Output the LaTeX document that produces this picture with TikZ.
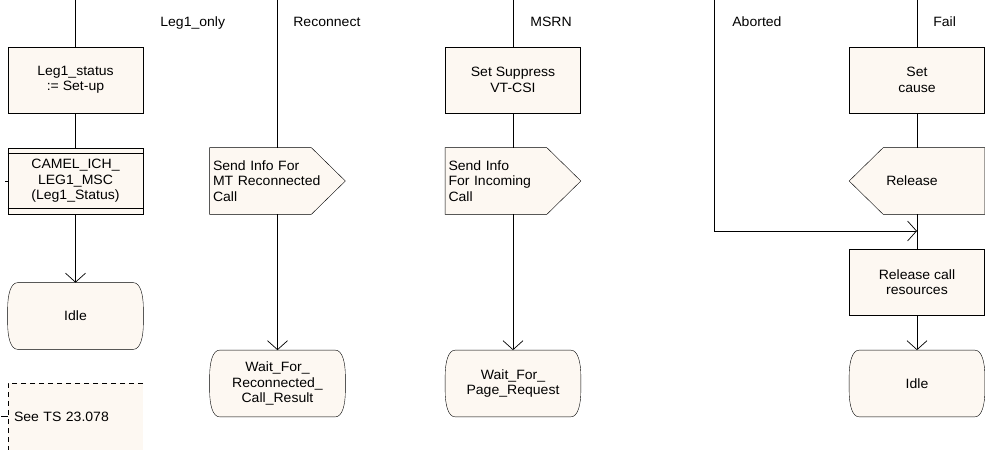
\documentclass[tikz,border=0pt]{standalone}
\usepackage{fontspec}
\setmainfont{Liberation Sans}[FakeStretch=1.04]
\usetikzlibrary{arrows.meta,backgrounds}
\definecolor{sdlfill}{RGB}{253,248,242}
\newcommand\us{\textunderscore}
% SDL state symbol: straight top and bottom, bulging sides
\newcommand\sdlstate[1]{%
  \draw[sdlshape] ([xshift=10pt]#1.north west) -- ([xshift=-10pt]#1.north east)
    .. controls ([xshift=-3pt]#1.north east) and ([yshift=-12pt]#1.north east) .. ([yshift=-26pt]#1.north east)
    -- ([yshift=26pt]#1.south east)
    .. controls ([yshift=12pt]#1.south east) and ([xshift=-3pt]#1.south east) .. ([xshift=-10pt]#1.south east)
    -- ([xshift=10pt]#1.south west)
    .. controls ([xshift=3pt]#1.south west) and ([yshift=12pt]#1.south west) .. ([yshift=26pt]#1.south west)
    -- ([yshift=-26pt]#1.north west)
    .. controls ([yshift=-12pt]#1.north west) and ([xshift=3pt]#1.north west) .. cycle;}
\begin{document}
\begin{tikzpicture}[x=1pt,y=-1pt, line width=0.7pt,
  every node/.style={font=\fontsize{13.5}{15.5}\selectfont},
  sdlbox/.style={draw, fill=sdlfill, rectangle, minimum width=135pt, minimum height=66pt, align=center, inner sep=0pt},
  sdltext/.style={rectangle, minimum width=135pt, minimum height=66pt, inner sep=0pt, align=center},
  lefttext/.style={sdltext, inner xsep=3pt, text width=129pt, align=left},
  sdlshape/.style={draw, fill=sdlfill},
  flow/.style={-{Straight Barb[length=9pt,width=20pt]}},
  lbl/.style={anchor=base west, inner sep=0pt}
]
\useasboundingbox (0,0) rectangle (985,450);

% column 1
\node[sdlbox] (leg1) at (75.5,80) {Leg1\us status\\:= Set-up};
\node[sdlbox] (camel) at (75.5,181) {CAMEL\us ICH\us\\LEG1\us MSC\\(Leg1\us Status)};
\draw ([yshift=-6pt]camel.north west) -- ([yshift=-6pt]camel.north east);
\draw ([yshift=6pt]camel.south west) -- ([yshift=6pt]camel.south east);
\node[sdltext] (idleA) at (75.5,316) {Idle};
\fill[sdlfill] (8,383) rectangle (143,450);
\node[sdltext, minimum height=67pt, inner xsep=6pt, text width=123pt, align=left] (note) at (75.5,416.5) {See TS 23.078};
\draw[dash pattern=on 5pt off 4pt] (143,383) -- (8,383) -- (8,450);
\draw (note.west) -- ++(-7,0);
\draw (camel.west) -- ++(-3,0);

% column 2
\node[lefttext] (sendA) at (277.5,181) {Send Info For\\MT Reconnected\\Call};
\node[sdltext] (waitA) at (277.5,383.5) {Wait\us For\us\\Reconnected\us\\Call\us Result};

% column 3
\node[sdlbox] (supp) at (513,80) {Set Suppress\\VT-CSI};
\node[lefttext] (sendB) at (513,181) {Send Info\\For Incoming\\Call};
\node[sdltext] (waitB) at (513,383.5) {Wait\us For\us\\Page\us Request};

% column 4
\node[sdlbox] (cause) at (917,80) {Set\\cause};
\node[sdltext, text width=129pt] (rel) at (917,181) {\hspace*{-10pt}Release};
\node[sdlbox] (relres) at (917,282) {Release call\\resources};
\node[sdltext] (idleB) at (917,383.5) {Idle};

% outlines of the signal and state symbols
\begin{scope}[on background layer]
  \draw[sdlshape] (sendA.north west) -- ([xshift=-34pt]sendA.north east) -- (sendA.east)
    -- ([xshift=-34pt]sendA.south east) -- (sendA.south west) -- cycle;
  \draw[sdlshape] (sendB.north west) -- ([xshift=-34pt]sendB.north east) -- (sendB.east)
    -- ([xshift=-34pt]sendB.south east) -- (sendB.south west) -- cycle;
  \draw[sdlshape] (rel.west) -- ([xshift=34pt]rel.north west) -- (rel.north east)
    -- (rel.south east) -- ([xshift=34pt]rel.south west) -- cycle;
  \sdlstate{idleA}
  \sdlstate{waitA}
  \sdlstate{waitB}
  \sdlstate{idleB}
\end{scope}

% branch labels
\node[lbl] (lblA) at (160,26.5) {Leg1\us only};
\node[lbl] (lblB) at (293,26.5) {Reconnect};
\node[lbl] (lblC) at (530,26.5) {MSRN};
\node[lbl] (lblD) at (732,26.5) {Aborted};
\node[lbl] (lblE) at (933,26.5) {Fail};

% flow lines
\coordinate (topA) at (75.5,0);
\coordinate (topB) at (277.5,0);
\coordinate (topC) at (513,0);
\coordinate (topD) at (714,0);
\coordinate (topE) at (917,0);
\coordinate (join) at (917,231);

\draw (topA) -- (leg1);
\draw (leg1) -- (camel);
\draw[flow] (camel) -- (idleA);

\draw (topB) -- (sendA);
\draw[flow] (sendA) -- (waitA);

\draw (topC) -- (supp);
\draw (supp) -- (sendB);
\draw[flow] (sendB) -- (waitB);

\draw (topE) -- (cause);
\draw (cause) -- (rel);
\draw (rel) -- (relres);
\draw[flow] (topD) |- (join);
\draw[flow] (relres) -- (idleB);
\end{tikzpicture}
\end{document}
